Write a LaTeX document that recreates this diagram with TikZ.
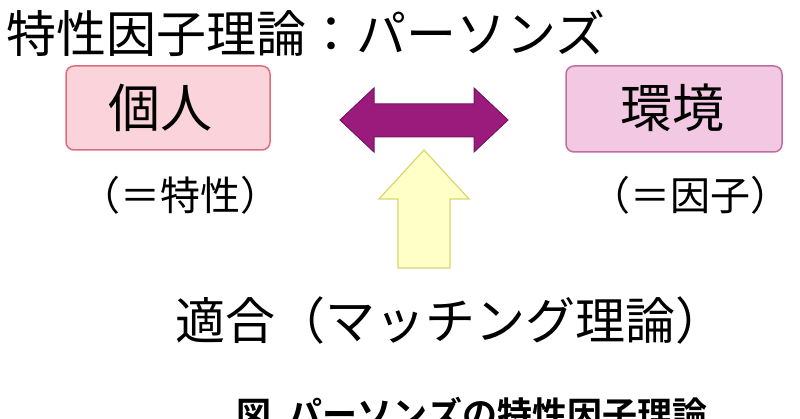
\documentclass[tikz,border=0pt]{standalone}
\usepackage{fontspec}
\newfontfamily\cjk{Noto Sans CJK JP}
\newfontfamily\cjkb{Noto Sans CJK JP Bold}
\begin{document}
\begin{tikzpicture}[x=1pt,y=-1pt,
  lbl/.style={font=\cjk, inner sep=0pt, anchor=center},
  box/.style={rounded corners=8pt, line width=1.5pt}]
\useasboundingbox (0,0) rectangle (800,419);
\clip (0,0) rectangle (800,419);
\node[lbl, font=\cjk\fontsize{50}{52}\selectfont, anchor=west] (title) at (6,33) {特性因子理論：パーソンズ};
\draw[box, fill={rgb,255:red,250;green,212;blue,218}, draw={rgb,255:red,220;green,110;blue,128}] (66,66) rectangle (270,150);
\node[lbl, font=\cjk\fontsize{52}{54}\selectfont] (ind) at (160,108) {個人};
\draw[box, fill={rgb,255:red,242;green,200;blue,226}, draw={rgb,255:red,192;green,110;blue,160}] (566,66) rectangle (782,152);
\node[lbl, font=\cjk\fontsize{52}{54}\selectfont] (env) at (672,108) {環境};
\node[lbl, font=\cjk\fontsize{40}{42}\selectfont] (t1) at (180,195) {（＝特性）};
\node[lbl, font=\cjk\fontsize{40}{42}\selectfont] (t2) at (690,195) {（＝因子）};
\draw[fill={rgb,255:red,155;green,27;blue,125}, draw={rgb,255:red,120;green,20;blue,95}, line width=1pt]
  (340,120) -- (374,88) -- (374,104) -- (474,104) -- (474,88) -- (508,120) -- (474,152) -- (474,137) -- (374,137) -- (374,152) -- cycle;
\draw[fill={rgb,255:red,255;green,255;blue,200}, draw={rgb,255:red,215;green,215;blue,110}, line width=1.2pt]
  (424,150) -- (469,199) -- (450,199) -- (450,268) -- (398,268) -- (398,199) -- (379,199) -- cycle;
\node[lbl, font=\cjk\fontsize{50}{52}\selectfont] (fit) at (450,320) {適合（マッチング理論）};
\node[lbl, font=\cjkb\fontsize{35}{37}\selectfont] (cap) at (472,414) {図\ \ パーソンズの特性因子理論};
\end{tikzpicture}
\end{document}
